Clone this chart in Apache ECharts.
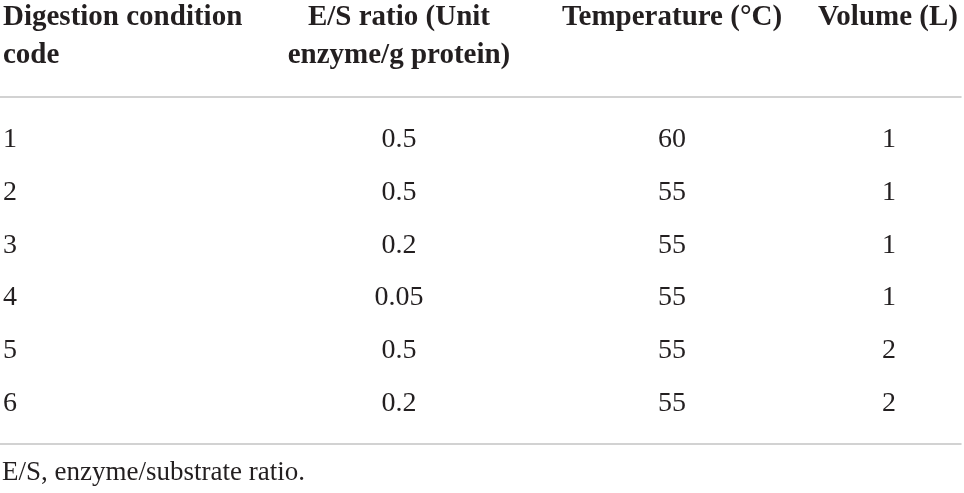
<!DOCTYPE html>
<html>
<head>
<meta charset="utf-8">
<script src="https://cdn.jsdelivr.net/npm/echarts@6/dist/echarts.min.js"></script>
<style>
html,body{margin:0;padding:0;background:#fff;}
#c{width:964px;height:493px;}
</style>
</head>
<body>
<div id="c"></div>
<script>
// ---- data ----
const headers = ['Digestion condition\ncode', 'E/S ratio (Unit\nenzyme/g protein)', 'Temperature (°C)', 'Volume (L)'];
const codes = ['1', '2', '3', '4', '5', '6'];
const esRatio = ['0.5', '0.5', '0.2', '0.05', '0.5', '0.2'];
const temperature = ['60', '55', '55', '55', '55', '55'];
const volume = ['1', '1', '1', '1', '2', '2'];
const footnote = 'E/S, enzyme/substrate ratio.';

// ---- layout (positions / styles) ----
const colX = [399, 672, 889];          // column centres on the x scale (0..961)
const headerX = [3, 399, 672, 888];
const FONT = '"Liberation Serif", "Times New Roman", serif';
const TEXT = '#231f20';
const RULE = '#c4c4c4';

const chart = echarts.init(document.getElementById('c'), null, {renderer: 'canvas'});

function colSeries(values, x) {
  return {
    type: 'custom',
    silent: true,
    data: values.map((v, i) => [x, codes[i], v]),
    encode: {x: 0, y: 1},
    renderItem: function (params, api) {
      const pt = api.coord([api.value(0), api.value(1)]);
      const txt = values[params.dataIndex];
      return {
        type: 'text',
        x: pt[0],
        y: pt[1],
        style: {
          text: txt,
          font: '28px ' + FONT,
          fill: TEXT,
          align: 'center',
          verticalAlign: 'middle'
        }
      };
    }
  };
}

const option = {
  animation: false,
  backgroundColor: '#ffffff',
  textStyle: {fontFamily: FONT},
  grid: {left: 0, right: 3, top: 113.2, bottom: 63},
  xAxis: [
    {
      type: 'value', min: 0, max: 961, position: 'bottom', offset: 13.5,
      axisLine: {show: true, lineStyle: {color: RULE, width: 1.5}},
      axisTick: {show: false}, axisLabel: {show: false}, splitLine: {show: false}
    },
    {
      type: 'value', min: 0, max: 961, position: 'top', offset: 16.2,
      axisLine: {show: true, lineStyle: {color: RULE, width: 1.5}},
      axisTick: {show: false}, axisLabel: {show: false}, splitLine: {show: false}
    }
  ],
  yAxis: {
    type: 'category',
    data: codes,
    inverse: true,
    axisLine: {show: false},
    axisTick: {show: false},
    splitLine: {show: false},
    axisLabel: {
      inside: true, margin: 3, align: 'left',
      fontFamily: FONT, fontSize: 28, color: TEXT
    }
  },
  series: [
    colSeries(esRatio, colX[0]),
    colSeries(temperature, colX[1]),
    colSeries(volume, colX[2])
  ],
  graphic: [
    {type: 'text', x: headerX[0], y: -1, style: {text: headers[0], font: 'bold 29px ' + FONT, lineHeight: 38, fill: TEXT, align: 'left', verticalAlign: 'top'}},
    {type: 'text', x: headerX[1], y: -1, style: {text: headers[1], font: 'bold 29px ' + FONT, lineHeight: 38, fill: TEXT, align: 'center', verticalAlign: 'top'}},
    {type: 'text', x: headerX[2], y: -1, style: {text: headers[2], font: 'bold 29px ' + FONT, lineHeight: 38, fill: TEXT, align: 'center', verticalAlign: 'top'}},
    {type: 'text', x: headerX[3], y: -1, style: {text: headers[3], font: 'bold 29px ' + FONT, lineHeight: 38, fill: TEXT, align: 'center', verticalAlign: 'top'}},
    {type: 'text', x: 2, y: 473, style: {text: footnote, font: '27px ' + FONT, fill: TEXT, align: 'left', verticalAlign: 'middle'}}
  ]
};
chart.setOption(option);
</script>
</body>
</html>
